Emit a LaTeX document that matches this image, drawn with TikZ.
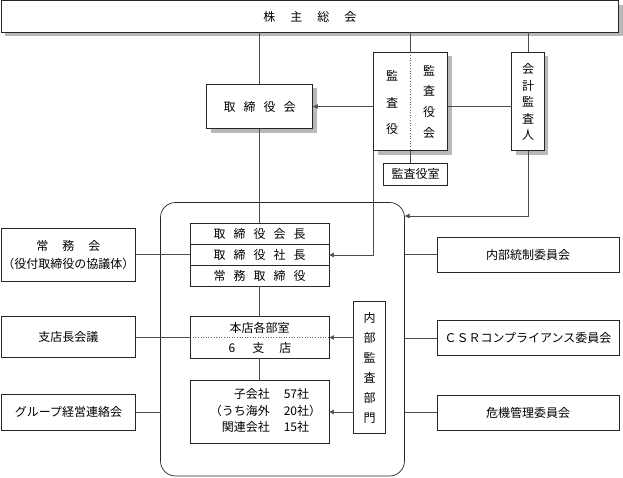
\documentclass[tikz,border=0pt]{standalone}
\usepackage{fontspec}
\setmainfont{Noto Sans CJK JP}
\usetikzlibrary{arrows.meta,shadows}
\newcommand{\kg}[1]{\hspace{#1}}
\begin{document}
\begin{tikzpicture}[x=1pt,y=-1pt,
  every node/.style={inner sep=0pt, outer sep=0pt, font=\fontsize{12}{14}\selectfont},
  bx/.style={draw=black!85, line width=0.7pt, fill=white},
  shd/.style={drop shadow={shadow xshift=4pt, shadow yshift=-4pt, fill=black!28, opacity=1}},
  con/.style={draw=black!70, line width=0.7pt},
  arr/.style={con, -{Latex[length=5pt,width=5pt]}},
  vt/.style={align=center, font=\fontsize{12}{#1}\selectfont}]
\useasboundingbox (0,0) rectangle (623,477);

% outer rounded group
\node[draw=black!85, line width=0.7pt, rounded corners=15pt, minimum width=244pt, minimum height=273.5pt] (rb) at (282.5,339.25) {};

% top
\node[bx, shd, line width=1.2pt, minimum width=617.5pt, minimum height=31.5pt] (kabu) at (309.9,16.6)
  {株\kg{15pt}主\kg{15pt}総\kg{15pt}会};
\node[bx, shd, minimum width=106pt, minimum height=44.4pt] (tori) at (259.6,106.5)
  {取\kg{8pt}締\kg{8pt}役\kg{8pt}会};
\node[bx, shd, minimum width=74pt, minimum height=98.4pt] (kansa) at (410.7,101.5) {};
\draw[black!60, dotted, line width=0.6pt] (kansa.north) -- (kansa.south);
\node[vt=26.5pt] (kL) at (392,102.5) {監\\査\\役};
\node[vt=20.7pt] (kR) at (429,101.7) {監\\査\\役\\会};
\node[bx, shd, minimum width=32.6pt, minimum height=98.4pt] (kaikei) at (528,101.5) {};
\node[vt=16.5pt] (kaiT) at (528,102) {会\\計\\監\\査\\人};
\node[bx, minimum width=64.4pt, minimum height=21.7pt] (kshitsu) at (415.5,174.2) {監査役室};

% executives
\node[bx, minimum width=138.7pt, minimum height=21pt] (e1) at (259.6,233.8) {取\kg{8pt}締\kg{8pt}役\kg{8pt}会\kg{8pt}長};
\node[bx, minimum width=138.7pt, minimum height=21.4pt] (e2) at (259.6,255) {取\kg{8pt}締\kg{8pt}役\kg{8pt}社\kg{8pt}長};
\node[bx, minimum width=138.7pt, minimum height=20.6pt] (e3) at (259.6,276) {常\kg{8pt}務\kg{8pt}取\kg{8pt}締\kg{8pt}役};

\node[bx, minimum width=138.7pt, minimum height=41.6pt] (honten) at (259.6,337.5) {};
\draw[black!60, dotted, line width=0.6pt] (honten.west) -- (honten.east);
\node (ht1) at (259.6,327.7) {本店各部室};
\node (ht2) at (260,348) {6\kg{17pt}支\kg{15pt}店};

\node[bx, minimum width=138.7pt, minimum height=62.6pt] (ko) at (259.6,412) {};
\node[font=\fontsize{12}{16.5}\selectfont] (koT) at (265.5,412)
  {\begin{tabular}{@{}r@{\hspace{14pt}}l@{}}子会社 & 57社\\（うち海外 & 20社）\\関連会社 & 15社\end{tabular}};

\node[bx, minimum width=32pt, minimum height=131.6pt] (naikan) at (369.7,367.5) {};
\node[vt=20pt] (naiT) at (369.7,368.3) {内\\部\\監\\査\\部\\門};

% left side
\node[bx, minimum width=134.7pt, minimum height=52.7pt, align=center, font=\fontsize{12}{18}\selectfont] (joumu) at (68.4,254.7)
  {常\kg{14pt}務\kg{14pt}会\\（役付取締役の協議体）};
\node[bx, minimum width=134.7pt, minimum height=41pt] (shiten) at (68.4,337.2) {支店長会議};
\node[bx, minimum width=134.7pt, minimum height=36pt] (group) at (68.4,412) {グループ経営連絡会};

% right side
\node[bx, minimum width=182pt, minimum height=35pt] (naibu) at (528,254.5) {内部統制委員会};
\node[bx, minimum width=182pt, minimum height=35pt] (csr) at (528,338) {ＣＳＲコンプライアンス委員会};
\node[bx, minimum width=182pt, minimum height=35pt] (kiki) at (528,412.5) {危機管理委員会};

% connectors
\draw[con] (tori.north |- kabu.south) -- (tori.north);
\draw[con] (kansa.north |- kabu.south) -- (kansa.north);
\draw[con] (kaikei.north |- kabu.south) -- (kaikei.north);
\draw[arr] (kansa.west |- tori.east) -- (tori.east);
\draw[con] (kansa.east |- tori.east) -- (kaikei.west |- tori.east);
\draw[con] (kansa.south) -- (kansa.south |- kshitsu.north);
\coordinate (kc) at (528,216);
\draw[arr] (kaikei.south) -- (kc) -- (kc -| rb.east);
\draw[arr] (kansa.south west) -- (kansa.south west |- e2.east) -- (e2.east);
\draw[con] (tori.south) -- (e1.north);
\draw[con] (e3.south) -- (honten.north);
\draw[con] (honten.south) -- (ko.north);
\draw[con] (joumu.east) -- (joumu.east -| e2.west);
\draw[con] (shiten.east) -- (shiten.east -| honten.west);
\draw[con] (group.east) -- (group.east -| rb.west);
\draw[con] (naibu.west -| rb.east) -- (naibu.west);
\draw[con] (csr.west -| rb.east) -- (csr.west);
\draw[con] (kiki.west -| rb.east) -- (kiki.west);
\draw[arr] (naikan.west |- honten.east) -- (honten.east);
\draw[arr] (naikan.west |- ko.east) -- (ko.east);
\end{tikzpicture}
\end{document}
